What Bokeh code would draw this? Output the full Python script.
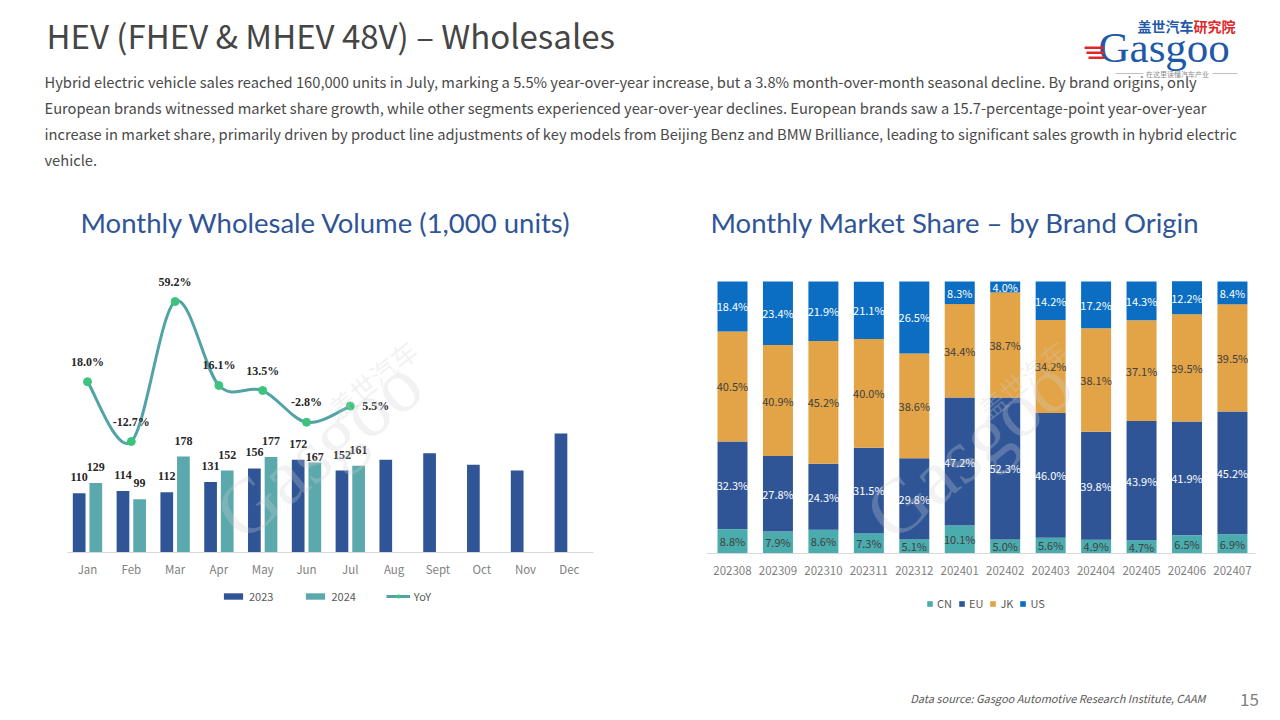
import numpy as np
from bokeh.plotting import figure
from bokeh.models import (Range1d, LinearAxis, FixedTicker, ColumnDataSource,
                          Legend, LegendItem)
from bokeh.core.properties import value
from bokeh.embed import file_html
from bokeh.resources import INLINE

# ---------------- data ----------------
months = ["Jan", "Feb", "Mar", "Apr", "May", "Jun", "Jul", "Aug", "Sept", "Oct", "Nov", "Dec"]
vol_2023 = [110, 114, 112, 131, 156, 172, 152, 172, 184, 163, 152, 221]
vol_2024 = [129, 99, 178, 152, 177, 167, 161]
yoy_pct = [18.0, -12.7, 59.2, 16.1, 13.5, -2.8, 5.5]

periods = ["202308", "202309", "202310", "202311", "202312", "202401",
           "202402", "202403", "202404", "202405", "202406", "202407"]
share_cn = [8.8, 7.9, 8.6, 7.3, 5.1, 10.1, 5.0, 5.6, 4.9, 4.7, 6.5, 6.9]
share_eu = [32.3, 27.8, 24.3, 31.5, 29.8, 47.2, 52.3, 46.0, 39.8, 43.9, 41.9, 45.2]
share_jk = [40.5, 40.9, 45.2, 40.0, 38.6, 34.4, 38.7, 34.2, 38.1, 37.1, 39.5, 39.5]
share_us = [18.4, 23.4, 21.9, 21.1, 26.5, 8.3, 4.0, 14.2, 17.2, 14.3, 12.2, 8.4]
origins = ["CN", "EU", "JK", "US"]

# ---------------- styles ----------------
SANS = "Noto Sans CJK SC"
C23, C24, CLINE, CMARK = "#2F5597", "#5BA8AD", "#52A3A6", "#3CC47C"
COL_CN, COL_EU, COL_JK, COL_US = "#4BACAE", "#2F5597", "#E2A446", "#0B6EC2"
TXT = "#404040"
GRAY = "#7F7F7F"

W, H = 1272, 712
p = figure(width=W, height=H, x_range=Range1d(0, W), y_range=Range1d(H, 0),
           x_axis_type=None, y_axis_type=None, toolbar_location=None,
           output_backend="svg", min_border=0, title=None)
p.outline_line_color = None
p.background_fill_color = "white"

# chart coordinate systems (the page is a single canvas)
LX0, LDX = 87.0, 43.8          # left chart: first category centre, category pitch (px)
LB, LK = 552.0, 0.539          # left chart: baseline (px from top), px per 1,000 units
YB, YK = 416.3, 1.947          # YoY: 0% position, px per percentage point
RX0, RDX = 732.0, 45.45        # right chart: first category centre, pitch
RB, RK = 552.5, 2.715          # right chart: baseline, px per percentage point
p.extra_x_ranges = {"lx": Range1d(-LX0 / LDX, (W - LX0) / LDX),
                    "rx": Range1d(-RX0 / RDX, (W - RX0) / RDX)}
p.extra_y_ranges = {"lv": Range1d(-(H - LB) / LK, LB / LK),
                    "ly": Range1d(-(H - YB) / YK, YB / YK),
                    "ry": Range1d(-(H - RB) / RK, RB / RK)}

# ---------------- header ----------------
p.text(x=[46], y=[34], text=["HEV (FHEV & MHEV 48V) \u2013 Wholesales"],
       text_font=value(SANS), text_font_size="33px", text_color="#454545",
       text_baseline="middle", text_align="left")
para = [
    "Hybrid electric vehicle sales reached 160,000 units in July, marking a 5.5% year-over-year increase, but a 3.8% month-over-month seasonal decline. By brand origins, only",
    "European brands witnessed market share growth, while other segments experienced year-over-year declines. European brands saw a 15.7-percentage-point year-over-year",
    "increase in market share, primarily driven by product line adjustments of key models from Beijing Benz and BMW Brilliance, leading to significant sales growth in hybrid electric",
    "vehicle.",
]
p.text(x=[44] * 4, y=[81, 107, 133, 159], text=para, text_font=value(SANS),
       text_font_size="14.7px", text_color="#4A4A4A", text_baseline="middle", text_align="left")

# logo
p.text(x=[1137], y=[25], text=["盖世汽车"], text_font=value(SANS),
       text_font_size="14px", text_font_style="bold", text_color="#1F5AA8",
       text_baseline="middle", text_align="left")
p.text(x=[1193], y=[25], text=["研究院"], text_font=value(SANS),
       text_font_size="14px", text_font_style="bold", text_color="#E0262B",
       text_baseline="middle", text_align="left")
p.text(x=[1098], y=[47], text=["Gasgoo"], text_font=value("Liberation Serif"),
       text_font_size="43px", text_color="#1F5AA8", text_baseline="middle", text_align="left")
p.quad(left=[1084, 1086, 1088], right=[1104, 1104, 1104], top=[46, 51, 56], bottom=[48.5, 53.5, 58.5],
       fill_color="#E0262B", line_color=None)
p.text(x=[1177], y=[73], text=["在这里读懂汽车产业"], text_font=value(SANS),
       text_font_size="7px", text_color="#8C8C8C", text_baseline="middle", text_align="center")
p.segment(x0=[1115, 1212], y0=[73, 73], x1=[1143, 1237], y1=[73, 73], line_color="#BFBFBF", line_width=1)

# chart titles
p.text(x=[80, 710], y=[222, 222],
       text=["Monthly Wholesale Volume (1,000 units)", "Monthly Market Share \u2013 by Brand Origin"],
       text_font=value("Lato"), text_font_size="27.5px", text_color="#2F5597",
       text_baseline="middle", text_align="left")

# footer
p.text(x=[1205], y=[697], text=["Data source: Gasgoo Automotive Research Institute, CAAM"],
       text_font=value(SANS), text_font_size="11px", text_font_style="italic",
       text_color="#595959", text_baseline="middle", text_align="right")
p.text(x=[1249], y=[699], text=["15"], text_font=value(SANS), text_font_size="17px",
       text_color=GRAY, text_baseline="middle", text_align="center")

# ---------------- left chart: volumes + YoY ----------------
n23, n24 = len(vol_2023), len(vol_2024)
x23 = np.arange(n23) - 0.19
x24 = np.arange(n24) + 0.19
s23 = ColumnDataSource(dict(x=x23, v=vol_2023))
lab24_dy = [-16] * n24
lab24_dy[5] = -5
s24 = ColumnDataSource(dict(x=x24, v=vol_2024, lab=[str(v) for v in vol_2024], dy=lab24_dy))

r23 = p.vbar(x="x", top="v", bottom=0, width=0.29, source=s23, fill_color=C23,
             line_color=None, x_range_name="lx", y_range_name="lv")
r24 = p.vbar(x="x", top="v", bottom=0, width=0.29, source=s24, fill_color=C24,
             line_color=None, x_range_name="lx", y_range_name="lv")

s23_lab = ColumnDataSource(dict(x=x23[:n24], v=vol_2023[:n24], lab=[str(v) for v in vol_2023[:n24]]))
p.text(x="x", y="v", text="lab", source=s23_lab, x_range_name="lx", y_range_name="lv",
       text_font=value("Liberation Serif"), text_font_style="bold", text_font_size="12px",
       text_color="#262626", text_align="center", text_baseline="middle", y_offset=-16)
p.text(x="x", y="v", text="lab", source=s24, x_range_name="lx", y_range_name="lv",
       text_font=value("Liberation Serif"), text_font_style="bold", text_font_size="12px",
       text_color="#262626", text_align="center", text_baseline="middle", y_offset="dy")

# smooth YoY line (Catmull-Rom style bezier segments through the points)
px = np.arange(len(yoy_pct), dtype=float)
py = np.array(yoy_pct, dtype=float)
nseg = len(px) - 1
i0 = np.clip(np.arange(nseg) - 1, 0, None)
i1 = np.arange(nseg)
i2 = i1 + 1
i3 = np.clip(i1 + 2, None, len(px) - 1)
cx0 = px[i1] + (px[i2] - px[i0]) / 6.0
cy0 = py[i1] + (py[i2] - py[i0]) / 6.0
cx1 = px[i2] - (px[i3] - px[i1]) / 6.0
cy1 = py[i2] - (py[i3] - py[i1]) / 6.0
rline = p.bezier(x0=px[i1], y0=py[i1], x1=px[i2], y1=py[i2], cx0=cx0, cy0=cy0, cx1=cx1, cy1=cy1,
                 line_color=CLINE, line_width=3, x_range_name="lx", y_range_name="ly")
rmark = p.scatter(x=px, y=py, size=8, fill_color=CMARK, line_color=CMARK,
                  x_range_name="lx", y_range_name="ly")
yoy_lab = ["%.1f%%" % v for v in yoy_pct]
yx_off = [0] * len(yoy_pct)
yy_off = [-20] * len(yoy_pct)
yalign = ["center"] * len(yoy_pct)
yx_off[-1], yy_off[-1], yalign[-1] = 12, 0, "left"
syoy = ColumnDataSource(dict(x=px, y=py, lab=yoy_lab, dx=yx_off, dy=yy_off, al=yalign))
p.text(x="x", y="y", text="lab", source=syoy, x_range_name="lx", y_range_name="ly",
       text_font=value("Liberation Serif"), text_font_style="bold", text_font_size="12px",
       text_color="#262626", text_align="al", text_baseline="middle",
       x_offset="dx", y_offset="dy")

ax_l = LinearAxis(x_range_name="lx", y_range_name="lv", fixed_location=0,
                  ticker=FixedTicker(ticks=list(range(len(months)))),
                  major_label_overrides={i: m for i, m in enumerate(months)},
                  bounds=(-0.45, 11.55))
p.add_layout(ax_l, "below")

# ---------------- right chart: stacked shares ----------------
xr = np.arange(len(periods))
sr = ColumnDataSource(dict(x=xr, CN=share_cn, EU=share_eu, JK=share_jk, US=share_us))
rs = p.vbar_stack(origins, x="x", width=0.66, source=sr,
                  fill_color=[COL_CN, COL_EU, COL_JK, COL_US], line_color=None,
                  x_range_name="rx", y_range_name="ry")

stack = np.vstack([share_cn, share_eu, share_jk, share_us])
tops = np.cumsum(stack, axis=0)
mids = tops - stack / 2.0
lab_cols = ["#404040", "white", "#404040", "white"]
for k in range(4):
    sk = ColumnDataSource(dict(x=xr, y=mids[k], lab=["%.1f%%" % v for v in stack[k]]))
    p.text(x="x", y="y", text="lab", source=sk, x_range_name="rx", y_range_name="ry",
           text_font=value(SANS), text_font_size="11px", text_color=lab_cols[k],
           text_align="center", text_baseline="middle")

ax_r = LinearAxis(x_range_name="rx", y_range_name="ry", fixed_location=0,
                  ticker=FixedTicker(ticks=list(range(len(periods)))),
                  major_label_overrides={i: s for i, s in enumerate(periods)},
                  bounds=(-0.57, 11.5))
p.add_layout(ax_r, "below")

for ax, stand in ((ax_l, 8), (ax_r, 13)):
    ax.axis_line_color = "#D9D9D9"
    ax.axis_line_width = 1
    ax.major_tick_line_color = None
    ax.minor_tick_line_color = None
    ax.major_tick_out = 0
    ax.major_tick_in = 0
    ax.major_label_standoff = stand
    ax.major_label_text_font = SANS
    ax.major_label_text_font_size = "11.5px"
    ax.major_label_text_color = GRAY

# faint watermarks over the charts
p.text(x=[318, 968], y=[448, 448], text=["Gasgoo", "Gasgoo"], angle=0.68,
       text_font=value("Liberation Serif"), text_font_size="78px", text_color="#D0D0D0",
       text_alpha=0.28, text_align="center", text_baseline="middle")
p.text(x=[372, 1022], y=[378, 378], text=["盖世汽车", "盖世汽车"], angle=0.68,
       text_font=value(SANS), text_font_size="26px", text_color="#D0D0D0",
       text_alpha=0.28, text_align="center", text_baseline="middle")

# ---------------- legends ----------------
leg_l = Legend(items=[LegendItem(label="2023", renderers=[r23]),
                      LegendItem(label="2024", renderers=[r24]),
                      LegendItem(label="YoY", renderers=[rline, rmark])],
               orientation="horizontal", location=(221, H - 604))
leg_l.glyph_width = 24
leg_l.glyph_height = 8
leg_l.label_standoff = 4
leg_l.spacing = 30

leg_r = Legend(items=[LegendItem(label=o, renderers=[r]) for o, r in zip(origins, rs)],
               orientation="horizontal", location=(926, H - 611))
leg_r.glyph_width = 7
leg_r.glyph_height = 7
leg_r.label_standoff = 4
leg_r.label_width = 0
leg_r.spacing = 6

for leg in (leg_l, leg_r):
    leg.background_fill_alpha = 0
    leg.border_line_color = None
    leg.padding = 0
    leg.margin = 0
    leg.label_height = 14
    leg.label_text_font = SANS
    leg.label_text_font_size = "11px"
    leg.label_text_color = "#595959"
    p.add_layout(leg)

open("out.html", "w").write(file_html(p, INLINE))
